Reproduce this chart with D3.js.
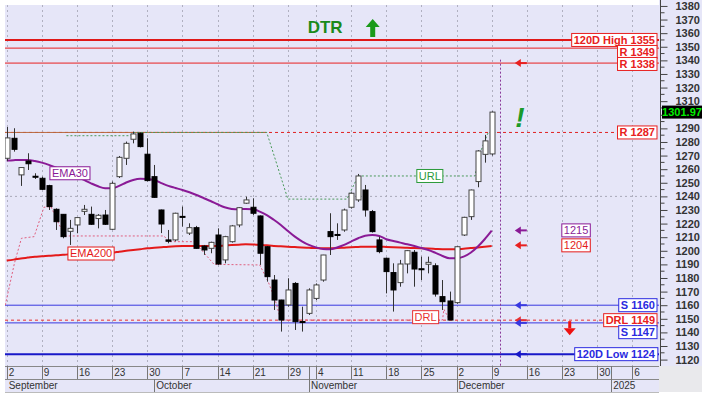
<!DOCTYPE html>
<html><head><meta charset="utf-8">
<script src="https://cdn.jsdelivr.net/npm/d3@7"></script>
<style>
body{margin:0;background:#fff}
svg{display:block}
text{font-family:"Liberation Sans",Arial,sans-serif}
</style>
</head><body><div id="chart"></div>
<script>
// ---------------- DATA ----------------
const opens  = [1268,1282.7,1255.8,1266,1254.8,1253.3,1247.9,1230.5,1226.8,1214.3,1219,1229,1226.8,1223.7,1226.3,1215.8,1254.5,1268,1282,1286.4,
                1271,1254.5,1230,1208,1208,1225.3,1213,1217,1203.5,1201.8,1211.6,1193.3,1206.7,1219,1235,1232,1225.6,1203,1178.5,1163.8,
                1160.2,1176,1148,1154,1165,1178.5,1214.1,1212,1215.3,1232,1237.4,1244.7,1228.8,1208,1194.5,1184,1176.6,1190.3,1198.9,1186.8,
                1190.1,1189,1166.3,1163.1,1161.9,1211.6,1225.1,1250.9,1270.9,1271.2];
const highs  = [1291,1290.1,1261.5,1271.7,1257,1254.5,1248.5,1231.2,1227,1222.7,1224.5,1233.7,1232.5,1227,1230,1250.9,1269.7,1280.3,1287.6,1287,
                1282.7,1263.1,1230.3,1215.3,1228,1232.5,1220.2,1218.3,1204.3,1206.7,1216.5,1211,1219,1232,1239.8,1238.6,1226,1203.5,1182.2,1164,
                1179.8,1177,1158.9,1172.4,1176,1197,1227.6,1220.2,1231,1243,1256.5,1248.4,1230,1210.4,1195,1190.8,1193.3,1200.6,1200.6,1195.7,
                1195.7,1190.8,1178.5,1170,1203.5,1225,1245,1274,1285.2,1302.5];
const lows   = [1266,1272.9,1247.7,1259.4,1252.8,1244.7,1230,1215.3,1209.2,1204.3,1212.9,1226.3,1219,1216.5,1219,1215.3,1253.5,1263.1,1279,1276,
                1251,1239,1213,1205.5,1207,1217.8,1211.6,1201.5,1197,1198.2,1189.6,1190.8,1206,1217.3,1234.5,1226.3,1189.6,1177.3,1156.5,1140.6,
                1159,1141.8,1140.6,1152.8,1163.8,1177.3,1196.9,1208,1214,1231,1236,1225.1,1213.4,1198.2,1168.7,1155.3,1173.6,1183.4,1173.6,1178.5,
                1183.4,1166.3,1156.5,1149.1,1161,1210.9,1222.7,1246.7,1264.8,1270];
const closes = [1283,1274.6,1261.2,1264,1254.2,1245.2,1232.5,1221.4,1210.4,1216.5,1224.4,1230.5,1219.5,1226.1,1219.5,1249.6,1268.7,1279,1285.9,1276.6,
                1251.6,1239.3,1219.7,1207,1227.6,1224.8,1217,1201.8,1200.6,1206.2,1190.3,1210.4,1218.3,1231.7,1237.4,1227.6,1198.2,1181,1163.8,1149.1,
                1171.2,1147.9,1147.5,1171.2,1174.9,1196.9,1210.4,1211.5,1230,1242.3,1255,1230,1214.1,1199.4,1184.7,1171.2,1190.3,1200.1,1186.6,1186.3,
                1191.5,1168.2,1162.6,1149.1,1203,1224.6,1244.7,1273.4,1280.8,1301.97];

const ema30  = [1266.3,1266.6,1266.8,1266.8,1266,1264.8,1263.2,1261.2,1259.2,1257,1254.6,1252.1,1249.6,1247.4,1246,1246,1247.7,1250.2,1252.1,1253,
                1252.8,1252,1249.8,1247.7,1246.2,1244.7,1243,1241,1238.8,1236.6,1234.2,1232,1230.8,1230.5,1230.8,1230.6,1228.8,1226.3,1222.8,1219,
                1214.6,1210.4,1207,1204.3,1202.5,1201.3,1201.1,1202.4,1204.3,1206.8,1209.2,1211.1,1211.6,1210.9,1208.5,1207.2,1206,1204.8,1203.5,1202,
                1200.6,1198.5,1196.2,1194.5,1194.5,1195.7,1198.6,1203,1208.5,1214.8];
const ema200 = [1192.8,1193.5,1194.3,1195,1195.7,1196,1196.4,1196.7,1197,1197.4,1197.6,1197.8,1198,1198.2,1198.4,1198.6,1199.3,1200,1200.6,1201.2,
                1201.8,1202.2,1202.6,1203,1203.3,1203.5,1203.6,1203.6,1203.5,1203.5,1203.6,1203.9,1204.2,1204.5,1204.8,1204.7,1204.4,1204,1203.6,1203.3,
                1203,1202.7,1202.4,1202.2,1202,1201.9,1201.8,1202,1202.3,1202.6,1202.8,1203,1203,1203,1202.8,1202.6,1202.4,1202.2,1202,1201.8,
                1201.6,1201.4,1201.2,1201.1,1201.1,1201.5,1202,1202.5,1203,1203.5];

// reversal lines: [day index, value]
const urlIdx  = [8.5,17.5,18,37,40,48.4,50,66.6,67.5,68.5,69.5];
const urlVal  = [1284.6,1284.6,1287,1287,1238,1238,1255,1255,1274,1287,1287];
const drlIdx  = [-0.2,1.1,2.1,3.9,5.3,6.3,7.2,8.3,22.4,23,26.7,29.5,36,37.2,38.2,39,62,62.2,63];
const drlVal  = [1160,1190.8,1209.2,1210.4,1232,1232.5,1222,1210.9,1210.9,1206.7,1206.7,1190,1189.6,1177.3,1163.8,1149.1,1149.1,1157,1149.1];

const weekIdx    = [0,5,10,15,20,25,30,35,40,44,49,54,59,64,69,74,79,84,89];
const weekLabels = ["2","9","16","23","30","7","14","21","29","4","11","18","25","2","9","16","23","30","6"];
const extraSepIdx = [43,86];
const monthIdx    = [0,21,43,64,86];
const monthLabels = ["September","October","November","December","2025"];

const yTickValues = [1120,1130,1140,1150,1160,1170,1180,1190,1200,1210,1220,1230,1240,1250,1260,1270,1280,1290,1300,1310,1320,1330,1340,1350,1360,1370,1380];
const yMinorValues = [1125,1135,1145,1155,1165,1175,1185,1195,1205,1215,1225,1235,1245,1255,1265,1275,1285,1295,1305,1315,1325,1335,1345,1355,1365,1375];
const gridValues = [1240];

const levelKinds  = ["high","res","res","resd","sup","drl","sup","low"];
const levelLabels = ["120D High 1355","R 1349","R 1338","R 1287","S 1160","DRL 1149","S 1147","120D Low 1124"];
const levelValues = [1355,1349,1338,1287,1160,1149,1147,1124];
const arrowKinds  = ["res","ema30","ema200","sup","drl","sup","low"];
const arrowValues = [1338,1215,1204,1160,1149,1147,1124];
const emaLastLabels = ["1215","1204"];
const lastClose = 1301.97;

// ---------------- CHART ----------------
const W=706,H=400;
const P={l:5,r:659,t:5,b:366};
const svg=d3.select("#chart").append("svg").attr("width",W).attr("height",H);
const x=d3.scaleLinear().domain([-0.24,92.8]).range([P.l,P.r]);
const y=d3.scaleLinear().domain([1115.3,1380.7]).range([P.b,P.t]);
const BG="#e6e6f8";

svg.append("rect").attr("x",P.l).attr("y",P.t).attr("width",P.r-P.l).attr("height",P.b-P.t).attr("fill",BG);
svg.append("rect").attr("x",P.r).attr("y",0).attr("width",702-P.r).attr("height",P.b).attr("fill",BG);
svg.append("rect").attr("x",P.l).attr("y",P.b).attr("width",P.r-P.l).attr("height",26).attr("fill",BG);
svg.append("rect").attr("x",P.r).attr("y",P.b).attr("width",702-P.r).attr("height",26).attr("fill","#e9e9ec");

svg.append("defs").append("clipPath").attr("id","pc").append("rect")
  .attr("x",P.l).attr("y",P.t).attr("width",P.r-P.l).attr("height",P.b-P.t);
const g=svg.append("g").attr("clip-path","url(#pc)");

// grid
g.selectAll(".vg").data(weekIdx).join("line")
  .attr("x1",d=>Math.round(x(d))+0.5).attr("x2",d=>Math.round(x(d))+0.5).attr("y1",P.t).attr("y2",P.b)
  .attr("stroke","#b0b0c0").attr("stroke-width",1).attr("stroke-dasharray","2,3");
g.selectAll(".hg").data(gridValues).join("line")
  .attr("x1",P.l).attr("x2",P.r).attr("y1",d=>y(d)).attr("y2",d=>y(d))
  .attr("stroke","#a8a8b8").attr("stroke-dasharray","2,3");

const kindColor={high:"#e01818",res:"#e82020",resd:"#e02020",sup:"#3838e0",drl:"#e83030",low:"#1818c8",ema30:"#8a1a96",ema200:"#e82020"};
const kindWidth={high:2,res:1,resd:1,sup:1,drl:1,low:2};
const kindDash={high:null,res:null,resd:"3,3",sup:null,drl:"3,3",low:null};

levelValues.forEach((v,k)=>{
  const kind=levelKinds[k];
  g.append("line").attr("x1",P.l).attr("x2",P.r).attr("y1",y(v)).attr("y2",y(v))
   .attr("stroke",kindColor[kind]).attr("stroke-width",kindWidth[kind])
   .attr("stroke-dasharray",kindDash[kind]);
});
// brown solid part of R 1287
g.append("line").attr("x1",P.l).attr("x2",x(36.98)).attr("y1",y(1287)).attr("y2",y(1287))
 .attr("stroke","#b86a40").attr("stroke-width",1);

// reversal traces
const lineGen=d3.line().x(d=>x(d[0])).y(d=>y(d[1]));
g.append("path").datum(urlIdx.map((d,k)=>[d,urlVal[k]])).attr("d",lineGen)
 .attr("fill","none").attr("stroke","#4a9a5a").attr("stroke-width",1).attr("stroke-dasharray","2,2");
g.append("path").datum(drlIdx.map((d,k)=>[d,drlVal[k]])).attr("d",lineGen)
 .attr("fill","none").attr("stroke","#e06080").attr("stroke-width",1).attr("stroke-dasharray","2,2");

// EMAs
const smooth=d3.line().x(d=>x(d[0])).y(d=>y(d[1])).curve(d3.curveMonotoneX);
g.append("path").datum(ema200.map((v,k)=>[k,v])).attr("d",smooth)
 .attr("fill","none").attr("stroke","#e41a1a").attr("stroke-width",2);
g.append("path").datum(ema30.map((v,k)=>[k,v])).attr("d",smooth)
 .attr("fill","none").attr("stroke","#8a1a96").attr("stroke-width",2);

// vertical today marker
g.append("line").attr("x1",Math.round(x(70.15))+0.5).attr("x2",Math.round(x(70.15))+0.5).attr("y1",y(1340.5)).attr("y2",P.b)
 .attr("stroke","#8a3a9a").attr("stroke-dasharray","2,2");

// candles
const candles=closes.map((c,k)=>({i:k,o:opens[k],h:highs[k],l:lows[k],c:c}));
const cg=g.append("g");
cg.selectAll(".wick").data(candles).join("line")
  .attr("x1",d=>Math.round(x(d.i))+0.5).attr("x2",d=>Math.round(x(d.i))+0.5)
  .attr("y1",d=>y(d.h)).attr("y2",d=>y(d.l)).attr("stroke","#333").attr("stroke-width",1);
cg.selectAll(".body").data(candles).join("rect")
  .attr("x",d=>Math.round(x(d.i))-2).attr("width",5)
  .attr("y",d=>y(Math.max(d.o,d.c))).attr("height",d=>Math.max(1,y(Math.min(d.o,d.c))-y(Math.max(d.o,d.c))))
  .attr("fill",d=>d.c>=d.o?"#fff":"#000").attr("stroke",d=>d.c>=d.o?"#444":"#000").attr("stroke-width",1);

// inline labels
function boxLabel(parent,cx,cy,txt,color,opts={}){
  const t=parent.append("text").attr("x",cx).attr("y",cy).attr("dy","0.36em")
    .attr("font-size",opts.size||11).attr("font-weight",opts.bold?"bold":"normal")
    .attr("fill",color).attr("text-anchor",opts.anchor||"middle").text(txt);
  const bb=t.node().getBBox();
  parent.insert("rect","text:last-child").attr("x",bb.x-2).attr("y",cy-6.5).attr("width",bb.width+4).attr("height",13)
    .attr("fill","#fff").attr("stroke",color).attr("stroke-width",1);
  t.raise();
}
const lab=svg.append("g");
boxLabel(lab,x(9),y(ema30[9]),"EMA30","#8a1a96");
boxLabel(lab,x(12),y(ema200[12]),"EMA200","#e41a1a");
boxLabel(lab,x(60.2),y(1255),"URL","#2a9a3a");
boxLabel(lab,x(59.6),y(1149)-3,"DRL","#e83030");

// right level labels (stacked)
let prevBottom=-1e9;
const placed=levelValues.map((v,k)=>({v,k})).sort((a,b)=>b.v-a.v).map(o=>{
  let cy=y(o.v); if(cy-6.5<prevBottom-1) cy=prevBottom-1+6.5; prevBottom=cy+6.5; return {...o,cy};
});
placed.forEach(o=>{
  const kind=levelKinds[o.k];
  boxLabel(lab,P.r-4,o.cy,levelLabels[o.k],kind==="sup"||kind==="low"?"#2a2ae0":"#e82020",{bold:true,anchor:"end"});
});
// EMA last-value labels
boxLabel(lab,x(81),y(1215),emaLastLabels[0],"#8a1a96",{size:11});
boxLabel(lab,x(81),y(1204),emaLastLabels[1],"#e41a1a",{size:11});

// small left arrows
arrowValues.forEach((v,k)=>{
  const c=kindColor[arrowKinds[k]], ax=x(73)-5, ay=y(v);
  lab.append("path").attr("d",`M${ax},${ay} l6,-4 v8 z`).attr("fill",c);
  lab.append("line").attr("x1",ax+5).attr("x2",ax+12).attr("y1",ay).attr("y2",ay).attr("stroke",c).attr("stroke-width",2);
});
// red down arrow
{const ax=x(80.1), ay=y(1149)+1;
 lab.append("rect").attr("x",ax-1.5).attr("y",ay).attr("width",3).attr("height",7).attr("fill","#ee1111");
 lab.append("path").attr("d",`M${ax-6},${ay+7} h12 l-6,7 z`).attr("fill","#ee1111");}
// green exclamation
lab.append("text").attr("x",x(73)).attr("y",y(1298)+10).attr("text-anchor","middle")
 .attr("font-family","DejaVu Sans").attr("font-size",28).attr("font-weight","bold").attr("font-style","italic")
 .attr("fill","#1a9a2a").text("!");
// DTR + up arrow
lab.append("text").attr("x",x(45.3)).attr("y",33).attr("text-anchor","middle")
 .attr("font-family","DejaVu Sans").attr("font-size",17).attr("font-weight","bold").attr("fill","#1a8a1a").text("DTR");
{const ax=x(52)+0.5;
 lab.append("path").attr("d",`M${ax},19 l7,8 h-4.5 v10 h-5 v-10 h-4.5 z`).attr("fill","#1a9a1a");}

// ---------------- AXES ----------------
const ya=svg.append("g").attr("transform",`translate(${P.r+1.5},0)`);
ya.append("line").attr("y1",0).attr("y2",P.b).attr("stroke","#444");
ya.selectAll(".mt").data(yMinorValues).join("line").attr("x1",0).attr("x2",4).attr("y1",d=>y(d)).attr("y2",d=>y(d)).attr("stroke","#444");
ya.call(d3.axisRight(y).tickValues(yTickValues).tickSize(7).tickPadding(8).tickFormat(d3.format("d")));
ya.select(".domain").remove();
ya.selectAll(".tick line").attr("stroke","#444");
ya.selectAll(".tick text").attr("font-size",11).attr("font-weight","bold")
  .attr("font-family","'Liberation Sans Narrow','Liberation Sans',Arial,sans-serif").attr("fill","#333")
  .style("display",d=>Math.abs(y(d)-y(lastClose))<8?"none":null);

// last price box
{const cy=y(lastClose);
 svg.append("rect").attr("x",662).attr("y",cy-6.5).attr("width",40).attr("height",13).attr("fill","#000");
 svg.append("text").attr("x",682).attr("y",cy).attr("dy","0.36em").attr("text-anchor","middle")
  .attr("font-size",11).attr("font-weight","bold").attr("fill","#00ee00").text(lastClose.toFixed(2));}

// date axis
const xa=svg.append("g");
xa.append("line").attr("x1",P.l).attr("x2",P.r).attr("y1",P.b+0.5).attr("y2",P.b+0.5).attr("stroke","#888");
xa.append("line").attr("x1",P.l).attr("x2",P.r).attr("y1",379.5).attr("y2",379.5).attr("stroke","#888");
xa.append("line").attr("x1",P.l).attr("x2",P.r).attr("y1",392.5).attr("y2",392.5).attr("stroke","#bbb");
xa.selectAll(".ws").data(weekIdx.concat(extraSepIdx)).join("line")
  .attr("x1",d=>Math.round(x(d))+0.5).attr("x2",d=>Math.round(x(d))+0.5).attr("y1",P.b).attr("y2",379).attr("stroke","#777");
xa.selectAll(".wl").data(weekIdx).join("text")
  .attr("x",d=>x(d)+2).attr("y",376).attr("font-size",10).attr("fill","#333").text((d,k)=>weekLabels[k]);
xa.selectAll(".ms").data(monthIdx.slice(1)).join("line")
  .attr("x1",d=>Math.round(x(d))+0.5).attr("x2",d=>Math.round(x(d))+0.5).attr("y1",379).attr("y2",392).attr("stroke","#777");
xa.selectAll(".ml").data(monthIdx).join("text")
  .attr("x",d=>Math.max(P.l,x(d))+2).attr("y",389).attr("font-size",10).attr("fill","#333").text((d,k)=>monthLabels[k]);
</script>
</body></html>
